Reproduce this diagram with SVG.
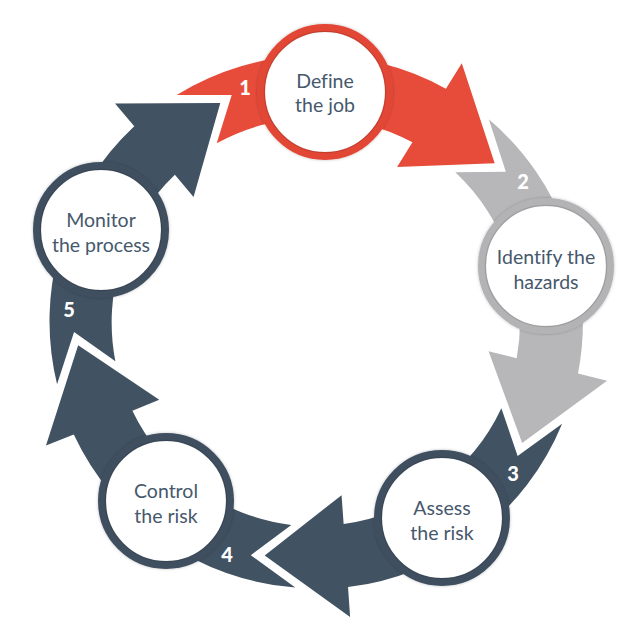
<svg xmlns="http://www.w3.org/2000/svg" xmlns:xlink="http://www.w3.org/1999/xlink" width="632" height="640" viewBox="0 0 632 640">
  <style>
    .red { fill: #E74C3B; }
    .grey { fill: #B7B7B9; }
    .navy { fill: #415263; }
    .ring { fill: #FFFFFF; stroke-width: 8; filter: url(#soft); }
    .ring-red { stroke: #E24736; }
    .ring-grey { stroke: #B3B3B5; }
    .ring-navy { stroke: #3F5061; }
    .inner { fill: none; stroke: #000000; stroke-opacity: 0.12; stroke-width: 1.5; }
    .label { font-family: Lato, "Open Sans", "Liberation Sans", sans-serif; font-size: 19.5px; fill: #46586C; text-anchor: middle; font-variant-ligatures: none; }
    .num { font-family: Lato, "Open Sans", "Liberation Sans", sans-serif; font-size: 20px; font-weight: 900; fill: #FFFFFF; text-anchor: middle; }
  </style>
  <defs>
    <filter id="soft" x="-20%" y="-20%" width="140%" height="140%">
      <feDropShadow dx="0" dy="0" stdDeviation="1.5" flood-color="#000000" flood-opacity="0.25"/>
    </filter>
    <path id="seg" d="M 176.7 95 A 266.5 266.5 0 0 1 445.9 88.7 L 461.8 63.3 L 494.7 163.3 L 397.1 166.9 L 412.4 142.3 A 204 204 0 0 0 216.7 143.3 L 231.7 95 Z"/>
  </defs>
  <rect width="632" height="640" fill="#FFFFFF"/>
  <g id="connectors">
    <use xlink:href="#seg" href="#seg" class="red"/>
    <use xlink:href="#seg" href="#seg" class="grey" transform="rotate(72 316 322)"/>
    <use xlink:href="#seg" href="#seg" class="navy" transform="rotate(144 316 322)"/>
    <use xlink:href="#seg" href="#seg" class="navy" transform="rotate(216 316 322)"/>
    <use xlink:href="#seg" href="#seg" class="navy" transform="rotate(288 316 322)"/>
  </g>
  <g id="node1">
    <circle cx="325" cy="92" r="64" class="ring ring-red"/>
    <circle cx="325" cy="92" r="60.5" class="inner"/>
    <text class="label" x="325" y="88">Define</text>
    <text class="label" x="325" y="112">the job</text>
    <text class="num" x="245" y="94.5">1</text>
  </g>
  <g id="node2">
    <circle cx="546" cy="266" r="64" class="ring ring-grey"/>
    <circle cx="546" cy="266" r="60.5" class="inner"/>
    <text class="label" x="546" y="264">Identify the</text>
    <text class="label" x="546" y="288.5">hazards</text>
    <text class="num" x="523" y="189">2</text>
  </g>
  <g id="node3">
    <circle cx="442" cy="518" r="64" class="ring ring-navy"/>
    <circle cx="442" cy="518" r="60.5" class="inner"/>
    <text class="label" x="442" y="515">Assess</text>
    <text class="label" x="442" y="539.5">the risk</text>
    <text class="num" x="513" y="481">3</text>
  </g>
  <g id="node4">
    <circle cx="166" cy="501" r="64" class="ring ring-navy"/>
    <circle cx="166" cy="501" r="60.5" class="inner"/>
    <text class="label" x="166" y="498">Control</text>
    <text class="label" x="166" y="522.5">the risk</text>
    <text class="num" x="227" y="562">4</text>
  </g>
  <g id="node5">
    <circle cx="101" cy="230" r="64" class="ring ring-navy"/>
    <circle cx="101" cy="230" r="60.5" class="inner"/>
    <text class="label" x="101" y="227">Monitor</text>
    <text class="label" x="101" y="251.5">the process</text>
    <text class="num" x="69" y="317">5</text>
  </g>
</svg>
